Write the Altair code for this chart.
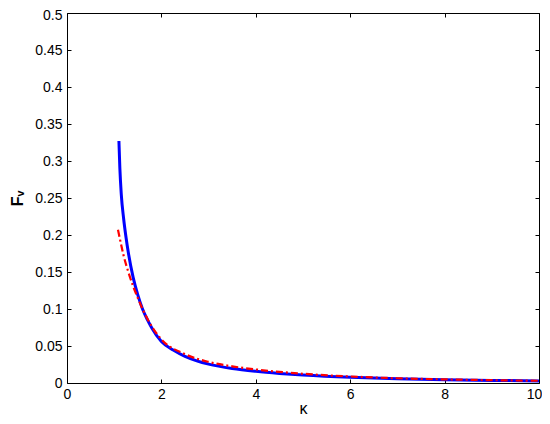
import altair as alt
import pandas as pd

# ---- data ----
kappa_blue = [1.10, 1.12, 1.15, 1.20, 1.25, 1.30, 1.40, 1.50, 1.60, 1.70, 1.80, 2.00,
              2.25, 2.50, 2.75, 3.00, 3.50, 4.00, 4.50, 5.00, 6.00, 7.00, 8.00, 9.00, 10.0]
fv_blue = [0.327, 0.290, 0.255, 0.222, 0.197, 0.176, 0.143, 0.119, 0.100, 0.086, 0.074, 0.056,
           0.0445, 0.036, 0.030, 0.0255, 0.0196, 0.0158, 0.0130, 0.0108, 0.0077, 0.0058, 0.0044, 0.0035, 0.0028]

kappa_red = [1.08, 1.10, 1.15, 1.20, 1.30, 1.40, 1.50, 1.60, 1.80, 2.00, 2.50, 3.00,
             3.50, 4.00, 5.00, 6.00, 7.00, 8.00, 9.00, 10.0]
fv_red = [0.207, 0.201, 0.186, 0.172, 0.150, 0.131, 0.115, 0.100, 0.076, 0.059, 0.039, 0.0285,
          0.0225, 0.0183, 0.0125, 0.0088, 0.0064, 0.0049, 0.0038, 0.0030]

x_ticks = [0, 2, 4, 6, 8, 10]
y_ticks = [0, 0.05, 0.1, 0.15, 0.2, 0.25, 0.3, 0.35, 0.4, 0.45, 0.5]

df_blue = pd.DataFrame({"kappa": kappa_blue, "fv": fv_blue})
df_red = pd.DataFrame({"kappa": kappa_red, "fv": fv_red})

FONT = "Liberation Sans"
xscale = alt.Scale(domain=[0, 10], nice=False, zero=False)
yscale = alt.Scale(domain=[0, 0.5], nice=False)

# axes carrying labels and titles (no ticks)
x_lab = alt.Axis(values=x_ticks, ticks=False, domain=False, grid=False, labelFont=FONT,
                 labelFontSize=14, labelColor="black", labelPadding=4, title="κ",
                 titleFont=FONT, titleFontSize=16, titleFontWeight="normal",
                 titleColor="black", titleY=30, titleBaseline="alphabetic", labelFlush=False,
                 labelOffset=alt.ExprRef(expr="datum.value == 10 ? -5 : 0"))
y_lab = alt.Axis(values=y_ticks, ticks=False, domain=False, grid=False, labelFont=FONT,
                 labelFontSize=14, labelColor="black", labelPadding=5, format="~g",
                 title="Fᵥ", titleFont=FONT, titleFontSize=16, titleFontWeight="bold",
                 titleColor="black", titlePadding=9, labelFlush=False,
                 labelOffset=alt.ExprRef(expr="datum.value == 0.5 ? 2 : 0"))

# inward tick axes
def tick_axis(vals, orient):
    return alt.Axis(values=vals, orient=orient, offset=-4, ticks=True, tickSize=4,
                    tickColor="black", tickWidth=1, labels=False, domain=False, grid=False)

blue = alt.Chart(df_blue).mark_line(color="#0000ff", strokeWidth=3, interpolate="monotone").encode(
    x=alt.X("kappa:Q", scale=xscale, axis=x_lab),
    y=alt.Y("fv:Q", scale=yscale, axis=y_lab),
)

red = alt.Chart(df_red).mark_line(color="#ff0000", strokeWidth=2.2, strokeDash=[7, 3, 2, 3],
                                  interpolate="monotone").encode(
    x=alt.X("kappa:Q", scale=xscale, axis=tick_axis(x_ticks, "bottom"), title=None),
    y=alt.Y("fv:Q", scale=yscale, axis=tick_axis(y_ticks, "left"), title=None),
)

ghost = alt.Chart(df_blue).mark_line(opacity=0).encode(
    x=alt.X("kappa:Q", scale=xscale, axis=tick_axis(x_ticks, "top"), title=None),
    y=alt.Y("fv:Q", scale=yscale, axis=tick_axis(y_ticks, "right"), title=None),
)

chart = alt.layer(blue, red, ghost).resolve_axis(x="independent", y="independent").properties(
    width=472, height=370,
    autosize=alt.AutoSizeParams(type="none"),
    padding={"left": 59, "top": 5, "right": 3, "bottom": 33},
    background="white",
).configure_view(stroke="black", strokeWidth=1)

chart.save("out.html", embed_options={"renderer": "svg", "actions": False})
